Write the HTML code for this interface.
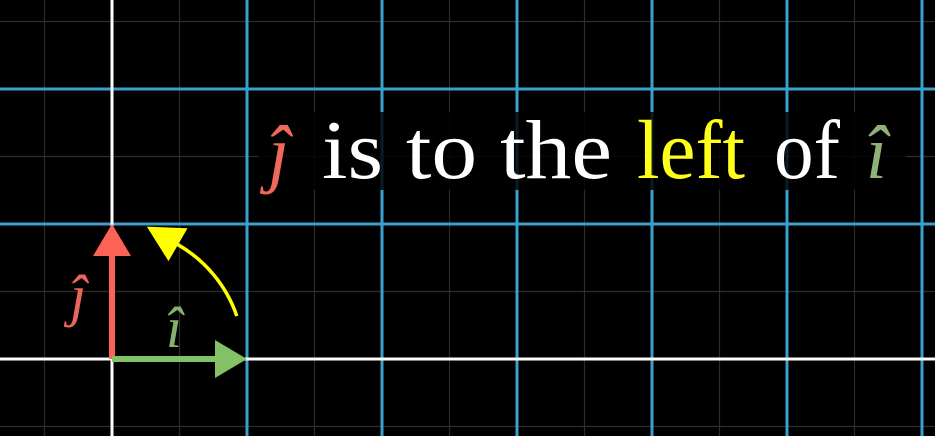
<!DOCTYPE html>
<html><head><meta charset="utf-8"><style>html,body{margin:0;padding:0;background:#000;overflow:hidden;width:935px;height:436px}svg{display:block}script{display:none}</style></head>
<body>
<svg width="935" height="436" viewBox="0 0 935 436" xmlns="http://www.w3.org/2000/svg">
<rect width="935" height="436" fill="#000"/>
<g id="grid"></g>
<rect x="258" y="112" width="648" height="78" fill="#000" opacity="0.82"/>
<g id="vecs"></g>
<text x="70" y="315" font-family="Liberation Serif, serif" font-style="italic" font-size="58" fill="#e8675a">ĵ</text>
<text x="166" y="347" font-family="Liberation Serif, serif" font-style="italic" font-size="58" fill="#83b16a">î</text>
<g font-family="Liberation Serif, serif" font-size="84">
<text x="268" y="178" font-style="italic" font-size="76" fill="#f0685a">ĵ</text>
<text x="322" y="178" fill="#fff" textLength="290" lengthAdjust="spacingAndGlyphs">is to the</text>
<text x="637" y="178" fill="#ffff1a" textLength="108" lengthAdjust="spacingAndGlyphs">left</text>
<text x="774" y="178" fill="#fff" textLength="66" lengthAdjust="spacingAndGlyphs">of</text>
<text x="866" y="178" font-style="italic" font-size="76" fill="#8fb078">î</text>
</g>
</svg>
<script>
const ox=112, oy=359, u=135;
const iHat=[1,0];
const jHat=[0,1];
const rotAngles=[19,60];
const NS="http://www.w3.org/2000/svg";
const X=v=>ox+v*u, Y=v=>oy-v*u;
const g=document.getElementById('grid');
function ln(x1,y1,x2,y2,c,w,name){const l=document.createElementNS(NS,'line');
l.setAttribute('x1',x1);l.setAttribute('y1',y1);l.setAttribute('x2',x2);l.setAttribute('y2',y2);
l.setAttribute('stroke',c);l.setAttribute('stroke-width',w);


g.appendChild(l);}
for(let k=-2;k<=16;k++){const x=ox+k*u/2;ln(x,0,x,436,'#2c2c2c',1.2,'minor-grid-line');}
for(let k=-2;k<=8;k++){const y=oy-k*u/2;ln(0,y,935,y,'#2c2c2c',1.2,'minor-grid-line');}
for(let k=-1;k<=7;k++){if(k===0)continue;ln(X(k),0,X(k),436,'#3aa0cc',3,'major-grid-line');}
for(let k=-1;k<=3;k++){if(k===0)continue;ln(0,Y(k),935,Y(k),'#3aa0cc',3,'major-grid-line');}
ln(X(0),0,X(0),436,'#fff',3,'y-axis');ln(0,Y(0),935,Y(0),'#fff',3,'x-axis');
const vg=document.getElementById('vecs');
function poly(pts,c,name){const p=document.createElementNS(NS,'polygon');p.setAttribute('points',pts.map(a=>a.join(',')).join(' '));p.setAttribute('fill',c);


vg.appendChild(p);}
function vec(v,c,name){const x2=X(v[0]),y2=Y(v[1]);const dx=x2-ox,dy=y2-oy,L=Math.hypot(dx,dy),ux=dx/L,uy=dy/L,h=32,w=19;
const bx=x2-ux*h,by=y2-uy*h;
const l=document.createElementNS(NS,'line');l.setAttribute('x1',ox);l.setAttribute('y1',oy);l.setAttribute('x2',bx);l.setAttribute('y2',by);l.setAttribute('stroke',c);l.setAttribute('stroke-width',6);


vg.appendChild(l);
poly([[x2,y2],[bx-uy*w,by+ux*w],[bx+uy*w,by-ux*w]],c,name+'-head');}
vec(jHat,'#fc6255','j-hat-vector');
vec(iHat,'#83c167','i-hat-vector');
const r=132,a0=rotAngles[0]*Math.PI/180,ab=rotAngles[1]*Math.PI/180;
const P=a=>[ox+r*Math.cos(a),oy-r*Math.sin(a)];
const s=P(a0),B=P(ab);
const path=document.createElementNS(NS,'path');
path.setAttribute('d',`M${s[0]},${s[1]} A${r},${r} 0 0 0 ${B[0]},${B[1]}`);
path.setAttribute('fill','none');path.setAttribute('stroke','#ffff00');path.setAttribute('stroke-width',3.5);


vg.appendChild(path);
const tx=-Math.sin(ab),ty=-Math.cos(ab);
const nx=Math.cos(ab),ny=-Math.sin(ab);
const T=[B[0]+tx*36,B[1]+ty*36];
poly([T,[B[0]+nx*19,B[1]+ny*19],[B[0]-nx*19,B[1]-ny*19]],'#ffff00','rotation-arrow-head');
</script>
</body></html>
